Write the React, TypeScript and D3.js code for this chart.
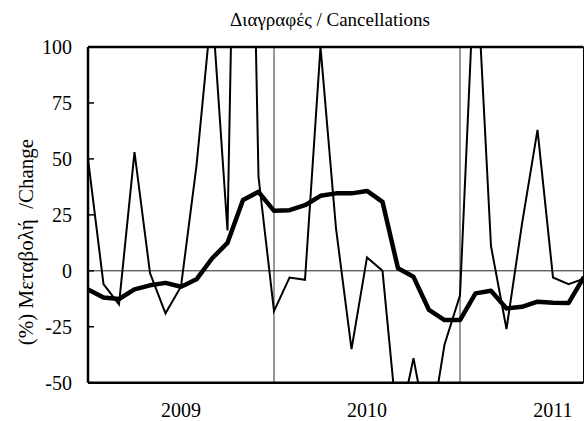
import React from 'react';
import * as d3 from 'd3';

// monthly points, Jan 2009 .. Sep 2011
const months = [
  '2009-01', '2009-02', '2009-03', '2009-04', '2009-05', '2009-06', '2009-07', '2009-08', '2009-09', '2009-10', '2009-11', '2009-12',
  '2010-01', '2010-02', '2010-03', '2010-04', '2010-05', '2010-06', '2010-07', '2010-08', '2010-09', '2010-10', '2010-11', '2010-12',
  '2011-01', '2011-02', '2011-03', '2011-04', '2011-05', '2011-06', '2011-07', '2011-08', '2011-09',
];

// thin line: monthly % change
const monthly = [
  50, -6, -15, 53, -1, -19, -7, 47, 119, 18, 390, 42,
  -18, -3, -4, 100, 19, -35, 6, 0, -72, -39, -76, -33,
  -11, 145, 11, -26, 21, 63, -3, -6, -3.5,
];

// thick line: smoothed % change
const smoothed = [
  -8.3, -11.9, -12.6, -8.3, -6.5, -5.4, -7.1, -3.8, 5.5, 12.5, 31.6, 35.3,
  26.8, 27.1, 29.3, 33.5, 34.6, 34.6, 35.7, 30.8, 1.1, -2.7, -17.5, -22,
  -22, -10.1, -8.9, -16.8, -16.1, -13.8, -14.3, -14.4, -2.7,
];

const yTicks = [-50, -25, 0, 25, 50, 75, 100];
const years = ['2009', '2010', '2011'];
const yearStart = [0, 12, 24];

const W = 584;
const H = 421;
const left = 88;
const right = 583.5;
const top = 47;
const bottom = 382.7;
const font = '"Liberation Serif", "DejaVu Serif", "Times New Roman", Times, serif';

const App: React.FC = () => {
  const x = d3.scalePoint<string>().domain(months).range([left, 584]).padding(0);
  const y = d3.scaleLinear().domain([-50, 100]).range([bottom, top]);

  const line = d3.line<number>()
    .x((_, i) => x(months[i]) as number)
    .y(d => y(d));

  const step = x.step();
  const txt = { fontFamily: font };

  return (
    <svg width={W} height={H} style={{ position: 'absolute', left: 0, top: 0, background: '#fff' }}>
      <defs>
        <clipPath id="plot">
          <rect x={left} y={top} width={right - left} height={bottom - top} />
        </clipPath>
      </defs>

      <text x={330} y={26} textAnchor="middle" style={txt} fontSize={19}>
        Διαγραφές / Cancellations
      </text>

      {/* zero line and year separators */}
      <line x1={left} x2={right} y1={y(0)} y2={y(0)} stroke="#222" strokeWidth={1} />
      {yearStart.slice(1).map(i => (
        <line key={i} x1={x(months[i])} x2={x(months[i])} y1={top} y2={bottom} stroke="#333" strokeWidth={1} />
      ))}

      <g clipPath="url(#plot)">
        <path d={line(monthly) || ''} fill="none" stroke="#000" strokeWidth={2} strokeLinejoin="miter" />
        <path d={line(smoothed) || ''} fill="none" stroke="#000" strokeWidth={4.5} strokeLinejoin="round" />
      </g>

      {/* frame */}
      <line x1={right} x2={right} y1={top} y2={bottom} stroke="#000" strokeWidth={1} />
      <line x1={left} x2={right} y1={top} y2={top} stroke="#000" strokeWidth={2.5} />
      <line x1={left} x2={right} y1={bottom} y2={bottom} stroke="#000" strokeWidth={2.5} />
      <line x1={left} x2={left} y1={top} y2={bottom} stroke="#000" strokeWidth={2.5} />

      {yTicks.map(t => (
        <g key={t}>
          <line x1={left} x2={left + 6} y1={y(t)} y2={y(t)} stroke="#000" strokeWidth={1.5} />
          <text x={72} y={y(t)} dy="0.35em" textAnchor="end" style={txt} fontSize={20}>
            {t}
          </text>
        </g>
      ))}

      {years.map((lab, k) => (
        <text key={lab} x={(x(months[yearStart[k]]) as number) + 6 * step} y={417}
          textAnchor="middle" style={txt} fontSize={20}>
          {lab}
        </text>
      ))}

      <text transform="translate(33,242) rotate(-90)" textAnchor="middle" style={{ ...txt, whiteSpace: 'pre' }} fontSize={21}>
        {'(%) Μεταβολή  /Change'}
      </text>
    </svg>
  );
};

export default App;
